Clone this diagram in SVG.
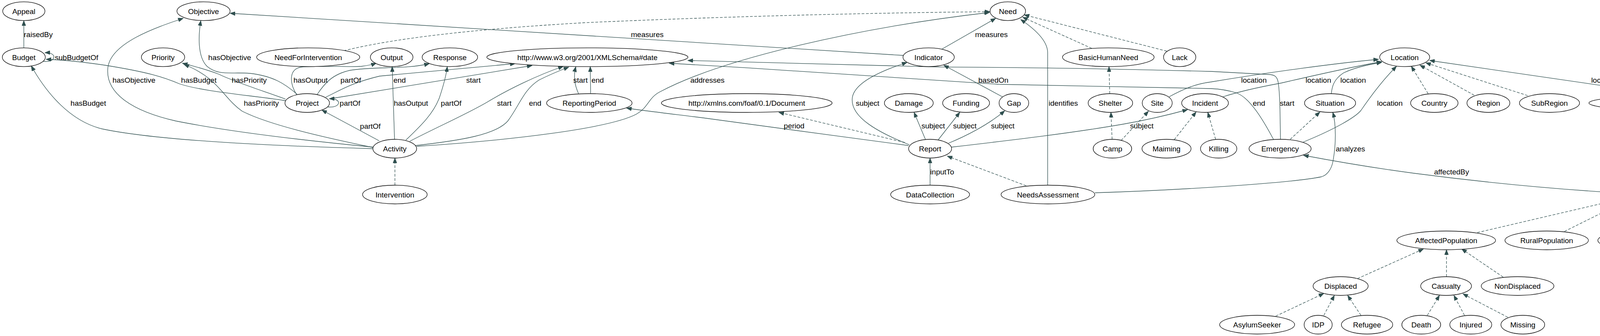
<svg xmlns="http://www.w3.org/2000/svg" width="5445" height="861" viewBox="0 0 5445 861">
<style>
.n ellipse{fill:#fff;stroke:#000;stroke-width:1.3}
text{font-family:"Liberation Sans",Arial,Helvetica,sans-serif;font-size:19px;fill:#000;text-anchor:middle}
#connectors path{fill:none;stroke:#2f4f4f;stroke-width:1.3;marker-end:url(#ah)}
#connectors path.d{stroke-dasharray:7,4}
</style>
<defs>
<marker id="ah" markerWidth="14" markerHeight="10" refX="13" refY="5" orient="auto" markerUnits="userSpaceOnUse"><path d="M0,0 L13,5 L0,10 z" fill="#2f4f4f" stroke="#2f4f4f" stroke-width="1"/></marker>
</defs>
<rect width="5445" height="861" fill="#fff"/>
<g id="connectors">
<g><path d="M61,122.6 L61,53"/><text x="98" y="95">raisedBy</text></g>
<g><path d="M111,157 C142,162 150,134 115,135"/><text x="196" y="154">subBudgetOf</text></g>
<g><path d="M761,242 C730,215 700,195 640,188 C590,184 560,195 530,170 C505,145 508,90 514,53"/><text x="588" y="154">hasObjective</text></g>
<g><path d="M955,377 C800,362 600,340 450,310 C340,285 270,240 276,175 C282,110 400,70 469,47"/><text x="343" y="212">hasObjective</text></g>
<g><path d="M731,258 C650,245 520,235 460,215 C420,198 380,185 268,167 C200,157 150,153 118,152"/><text x="509" y="212">hasBudget</text></g>
<g><path d="M955,381 C700,374 400,360 260,330 C180,310 120,240 80,169"/><text x="226" y="271">hasBudget</text></g>
<g><path d="M731,254 C680,235 600,210 560,190 C520,175 490,168 467,162"/><text x="638" y="212">hasPriority</text></g>
<g><path d="M955,378 C820,350 690,320 620,285 C570,250 560,200 471,165"/><text x="669" y="271">hasPriority</text></g>
<g><path d="M759,242 C742,215 738,178 770,172 C820,168 900,172 925,170 C940,168 952,166 963,162"/><text x="795" y="212">hasOutput</text></g>
<g><path d="M812,242 C830,215 850,190 897,180 C960,170 1040,178 1099,163"/><text x="898" y="212">partOf</text></g>
<g><path d="M834,249 C870,232 900,212 972,195 L1319,163"/><text x="1023" y="212">end</text></g>
<g><path d="M845,253 L1362,168"/><text x="1212" y="212">start</text></g>
<g><path d="M839,274 C872,278 878,252 843,253"/><text x="896" y="271">partOf</text></g>
<g><path d="M1010,357 L1004,171"/><text x="1052" y="271">hasOutput</text></g>
<g><path d="M1039,359 C1080,320 1110,290 1125,250 C1135,220 1142,195 1145,171"/><text x="1155" y="271">partOf</text></g>
<g><path d="M1049,362 C1120,325 1200,290 1250,260 C1300,230 1370,195 1442,170"/><text x="1291" y="271">start</text></g>
<g><path d="M1063,373 C1180,360 1270,345 1300,310 C1330,270 1340,230 1380,205 C1410,190 1440,178 1456,172"/><text x="1370" y="271">end</text></g>
<g><path d="M971,361 L824,282"/><text x="948" y="330">partOf</text></g>
<g><path d="M1067,375 C1300,360 1560,330 1630,292 C1660,275 1660,250 1690,235 C1850,150 2200,70 2533,32"/><text x="1811" y="212">addresses</text></g>
<g><path class="d" d="M1011,474.5 L1011,405"/></g>
<g><path d="M1481,240 C1470,215 1468,195 1474,171"/><text x="1486" y="212">start</text></g>
<g><path d="M1512,239 L1511,171"/><text x="1530" y="212">end</text></g>
<g><path d="M2312,142 L589,34"/><text x="1657" y="95">measures</text></g>
<g><path class="d" d="M880,130 C1000,100 1200,75 1500,58 C1900,40 2300,32 2534,30"/></g>
<g><path d="M2326,373 C2150,350 1900,315 1800,302 C1720,292 1650,284 1604,277"/><text x="2033" y="329">period</text></g>
<g><path class="d" d="M2316,365 L1994,288"/></g>
<g><path d="M2328,371 C2250,340 2175,300 2182,250 C2188,210 2260,180 2322,160"/><text x="2221" y="271">subject</text></g>
<g><path d="M2369,357 L2340,288"/><text x="2389" y="329">subject</text></g>
<g><path d="M2402,358 L2457,288"/><text x="2470" y="329">subject</text></g>
<g><path d="M2428,367 C2470,350 2530,320 2572,284"/><text x="2567" y="329">subject</text></g>
<g><path d="M2411,126 L2549,47"/><text x="2538" y="95">measures</text></g>
<g><path d="M2566,248 L2416,167"/><text x="2543" y="212">basedOn</text></g>
<g><path d="M2381,474.5 L2381,405"/><text x="2412" y="447">inputTo</text></g>
<g><path class="d" d="M2627,476 L2425,400"/></g>
<g><path d="M2682,474.5 L2682,135 C2682,105 2650,75 2613,50"/><text x="2722" y="271">identifies</text></g>
<g><path class="d" d="M2795,124 L2618,44"/></g>
<g><path class="d" d="M2987,131 L2622,38"/></g>
<g><path d="M2436,377 C2600,358 2750,340 2876,318 C2950,305 3000,292 3040,281"/><text x="2923" y="329">subject</text></g>
<g><path class="d" d="M2841,240 L2839,171"/></g>
<g><path class="d" d="M2847,357 L2844,288"/></g>
<g><path class="d" d="M2870,360 L2940,285"/></g>
<g><path class="d" d="M3006,358 L3062,287"/></g>
<g><path class="d" d="M3112,357 L3092,288"/></g>
<g><path class="d" d="M3303,357 L3379,287"/></g>
<g><path d="M2993,248 C3030,228 3060,215 3100,210 C3250,185 3420,162 3529,152"/><text x="3210" y="212">location</text></g>
<g><path d="M3131,248 C3180,232 3230,222 3279,213 C3400,185 3480,168 3537,158"/><text x="3375" y="212">location</text></g>
<g><path d="M3408,240 C3410,225 3412,205 3439,187 C3470,172 3505,165 3537,160"/><text x="3464" y="212">location</text></g>
<g><path d="M3334,365 C3420,330 3470,300 3484,283 C3510,245 3545,200 3575,170"/><text x="3558" y="271">location</text></g>
<g><path d="M3260,357 C3235,310 3200,250 3165,238 C3140,230 3120,228 3100,227 C2900,222 2700,218 2556,216 C2300,200 2000,178 1713,162"/><text x="3223" y="271">end</text></g>
<g><path d="M3278,357 C3277,300 3277,240 3272,210 C3269,195 3262,192 3250,191 L3100,183 C2900,178 2700,173 2400,171.7 C2100,165 1900,158 1761,155"/><text x="3295" y="271">start</text></g>
<g><path d="M2803,494 C3000,488 3300,470 3383,453 C3400,448 3410,430 3413,410 C3420,370 3421,320 3412,288"/><text x="3457" y="388">analyzes</text></g>
<g><path d="M4121,493 C3950,482 3780,465 3620,444 C3500,428 3400,410 3337,398"/><text x="3716" y="447">affectedBy</text></g>
<g><path class="d" d="M3656,240 L3613,170"/></g>
<g><path class="d" d="M3774,244 L3635,167"/></g>
<g><path class="d" d="M3911,245 L3650,161"/></g>
<g><path d="M4254,241.6 L3660,155"/><text x="4113" y="212">locatedAt</text></g>
<g><path class="d" d="M4415,361 C4550,338 4700,308 4848,283"/></g>
<g><path class="d" d="M4219,475 L4281,406"/></g>
<g><path class="d" d="M3782,596 L4137,513"/></g>
<g><path class="d" d="M4005,593 L4154,519"/></g>
<g><path class="d" d="M4197,592 L4197,522.5"/></g>
<g><path class="d" d="M4392,593 L4245,519"/></g>
<g><path class="d" d="M5159,597 C4950,565 4700,530 4520,516 C4400,507 4320,503 4274,501"/></g>
<g><path class="d" d="M3475,714 L3644,638"/></g>
<g><path class="d" d="M3703,709 L3703,640"/></g>
<g><path class="d" d="M3848,710 L3742,638"/></g>
<g><path class="d" d="M3266,810 L3389,752"/></g>
<g><path class="d" d="M3389,808 L3416,757"/></g>
<g><path class="d" d="M3484,808 L3450,757"/></g>
<g><path class="d" d="M3654,808 L3685,757"/></g>
<g><path class="d" d="M3749,808 L3722,757"/></g>
<g><path class="d" d="M3860,813 L3745,753"/></g>
<g><path class="d" d="M4842,357 L4924,288"/></g>
<g><path class="d" d="M5087,361 L4994,288"/></g>
<g><path class="d" d="M5194,363 L5021,288"/></g>
<g><path class="d" d="M5135,360 L5208,286"/></g>
<g><path class="d" d="M5234,357 L5234,288"/></g>
<g><path class="d" d="M4812,474.5 L4812,405"/></g>
<g><path class="d" d="M4663,594 L4774,522"/></g>
<g><path class="d" d="M4840,592 L4821,522.5"/></g>
<g><path d="M5170,596 C5145,580 5138,560 5140,550 C5143,538 5150,530 5158,522.5"/><text x="5179" y="564">fromAge</text></g>
<g><path d="M5219,592 C5221,575 5221,560 5220,550 C5218,540 5215,530 5213,522.5"/><text x="5245" y="564">toAge</text></g>
<g><path d="M4811,714 L4668,634"/><text x="4786" y="682">leadBy</text></g>
<g><path d="M4881,714 L5028,634"/><text x="5006" y="682">convers</text></g>
</g>
<g id="nodes">
<g id="Appeal" class="n"><ellipse cx="61" cy="28.6" rx="54" ry="24"/><text x="61" y="35.6">Appeal</text></g>
<g id="Objective" class="n"><ellipse cx="521" cy="28.6" rx="68" ry="24"/><text x="521" y="35.6">Objective</text></g>
<g id="Need" class="n"><ellipse cx="2580" cy="28.6" rx="45.5" ry="24"/><text x="2580" y="35.6">Need</text></g>
<g id="Budget" class="n"><ellipse cx="61" cy="146.6" rx="55" ry="24"/><text x="61" y="153.6">Budget</text></g>
<g id="Priority" class="n"><ellipse cx="417.4" cy="146.6" rx="55.4" ry="24"/><text x="417.4" y="153.6">Priority</text></g>
<g id="NeedForIntervention" class="n"><ellipse cx="789" cy="146.6" rx="132" ry="24"/><text x="789" y="153.6">NeedForIntervention</text></g>
<g id="Output" class="n"><ellipse cx="1002.7" cy="146.6" rx="54.5" ry="24"/><text x="1002.7" y="153.6">Output</text></g>
<g id="Response" class="n"><ellipse cx="1151.7" cy="146.6" rx="71" ry="24"/><text x="1151.7" y="153.6">Response</text></g>
<g id="XMLSchemaDate" class="n"><ellipse cx="1503.7" cy="146.6" rx="257.5" ry="24"/><text x="1503.7" y="153.6">http://www.w3.org/2001/XMLSchema#date</text></g>
<g id="Indicator" class="n"><ellipse cx="2377.3" cy="146.6" rx="65.7" ry="24"/><text x="2377.3" y="153.6">Indicator</text></g>
<g id="BasicHumanNeed" class="n"><ellipse cx="2837.3" cy="146.6" rx="117.3" ry="24"/><text x="2837.3" y="153.6">BasicHumanNeed</text></g>
<g id="Lack" class="n"><ellipse cx="3020" cy="146.6" rx="41.4" ry="24"/><text x="3020" y="153.6">Lack</text></g>
<g id="Location" class="n"><ellipse cx="3596" cy="146.6" rx="64" ry="24"/><text x="3596" y="153.6">Location</text></g>
<g id="Project" class="n"><ellipse cx="786.5" cy="264" rx="57" ry="24"/><text x="786.5" y="271">Project</text></g>
<g id="ReportingPeriod" class="n"><ellipse cx="1508.7" cy="264" rx="109.4" ry="24"/><text x="1508.7" y="271">ReportingPeriod</text></g>
<g id="FoafDocument" class="n"><ellipse cx="1911.7" cy="264" rx="218.5" ry="24"/><text x="1911.7" y="271">http://xmlns.com/foaf/0.1/Document</text></g>
<g id="Damage" class="n"><ellipse cx="2326.6" cy="264" rx="62.5" ry="24"/><text x="2326.6" y="271">Damage</text></g>
<g id="Funding" class="n"><ellipse cx="2473.2" cy="264" rx="60" ry="24"/><text x="2473.2" y="271">Funding</text></g>
<g id="Gap" class="n"><ellipse cx="2595.6" cy="264" rx="38" ry="24"/><text x="2595.6" y="271">Gap</text></g>
<g id="Shelter" class="n"><ellipse cx="2842.6" cy="264" rx="57" ry="24"/><text x="2842.6" y="271">Shelter</text></g>
<g id="Site" class="n"><ellipse cx="2962.5" cy="264" rx="38.4" ry="24"/><text x="2962.5" y="271">Site</text></g>
<g id="Incident" class="n"><ellipse cx="3084.9" cy="264" rx="59.8" ry="24"/><text x="3084.9" y="271">Incident</text></g>
<g id="Situation" class="n"><ellipse cx="3405" cy="264" rx="65.4" ry="24"/><text x="3405" y="271">Situation</text></g>
<g id="Country" class="n"><ellipse cx="3671.9" cy="264" rx="60.7" ry="24"/><text x="3671.9" y="271">Country</text></g>
<g id="Region" class="n"><ellipse cx="3810.3" cy="264" rx="54.9" ry="24"/><text x="3810.3" y="271">Region</text></g>
<g id="SubRegion" class="n"><ellipse cx="3966.7" cy="264" rx="76.9" ry="24"/><text x="3966.7" y="271">SubRegion</text></g>
<g id="SpatialThing" class="n"><ellipse cx="4404.8" cy="264" rx="337.2" ry="24"/><text x="4404.8" y="271">http://www.w3.org/2003/01/geo/wgs84_pos#SpatialThing</text></g>
<g id="FoafAgent" class="n"><ellipse cx="4959.7" cy="264" rx="193" ry="24"/><text x="4959.7" y="271">http://xmlns.com/foaf/0.1/Agent</text></g>
<g id="Gender" class="n"><ellipse cx="5234.3" cy="264" rx="57.5" ry="24"/><text x="5234.3" y="271">Gender</text></g>
<g id="Activity" class="n"><ellipse cx="1010.6" cy="381" rx="56" ry="24"/><text x="1010.6" y="388">Activity</text></g>
<g id="Report" class="n"><ellipse cx="2381.1" cy="381" rx="55" ry="24"/><text x="2381.1" y="388">Report</text></g>
<g id="Camp" class="n"><ellipse cx="2847.8" cy="381" rx="49.3" ry="24"/><text x="2847.8" y="388">Camp</text></g>
<g id="Maiming" class="n"><ellipse cx="2986.3" cy="381" rx="62.8" ry="24"/><text x="2986.3" y="388">Maiming</text></g>
<g id="Killing" class="n"><ellipse cx="3119.8" cy="381" rx="46.6" ry="24"/><text x="3119.8" y="388">Killing</text></g>
<g id="Emergency" class="n"><ellipse cx="3277" cy="381" rx="79.5" ry="24"/><text x="3277" y="388">Emergency</text></g>
<g id="FoafGroup" class="n"><ellipse cx="4302.6" cy="381" rx="195" ry="24"/><text x="4302.6" y="388">http://xmlns.com/foaf/0.1/Group</text></g>
<g id="FoafOrganization" class="n"><ellipse cx="4811.9" cy="381" rx="234" ry="24"/><text x="4811.9" y="388">http://xmlns.com/foaf/0.1/Organization</text></g>
<g id="Male" class="n"><ellipse cx="5111.7" cy="381" rx="41" ry="24"/><text x="5111.7" y="388">Male</text></g>
<g id="Female" class="n"><ellipse cx="5234.3" cy="381" rx="57.5" ry="24"/><text x="5234.3" y="388">Female</text></g>
<g id="Intervention" class="n"><ellipse cx="1010.9" cy="498.5" rx="82.7" ry="24"/><text x="1010.9" y="505.5">Intervention</text></g>
<g id="DataCollection" class="n"><ellipse cx="2381.1" cy="498.5" rx="101" ry="24"/><text x="2381.1" y="505.5">DataCollection</text></g>
<g id="NeedsAssessment" class="n"><ellipse cx="2682.7" cy="498.5" rx="120" ry="24"/><text x="2682.7" y="505.5">NeedsAssessment</text></g>
<g id="Population" class="n"><ellipse cx="4197" cy="498.5" rx="76" ry="24"/><text x="4197" y="505.5">Population</text></g>
<g id="Organization" class="n"><ellipse cx="4811.6" cy="498.5" rx="89.5" ry="24"/><text x="4811.6" y="505.5">Organization</text></g>
<g id="XMLSchemaInt" class="n"><ellipse cx="5194.1" cy="498.5" rx="245" ry="24"/><text x="5194.1" y="505.5">http://www.w3.org/2001/XMLSchema#int</text></g>
<g id="AffectedPopulation" class="n"><ellipse cx="3702.3" cy="616" rx="126.3" ry="24"/><text x="3702.3" y="623">AffectedPopulation</text></g>
<g id="RuralPopulation" class="n"><ellipse cx="3959.5" cy="616" rx="106.8" ry="24"/><text x="3959.5" y="623">RuralPopulation</text></g>
<g id="TotalPopulation" class="n"><ellipse cx="4197" cy="616" rx="106.5" ry="24"/><text x="4197" y="623">TotalPopulation</text></g>
<g id="UrbanPopulation" class="n"><ellipse cx="4438.5" cy="616" rx="111" ry="24"/><text x="4438.5" y="623">UrbanPopulation</text></g>
<g id="Agency" class="n"><ellipse cx="4630.6" cy="616" rx="57.5" ry="24"/><text x="4630.6" y="623">Agency</text></g>
<g id="ImplementingPartner" class="n"><ellipse cx="4847.7" cy="616" rx="136" ry="24"/><text x="4847.7" y="623">ImplementingPartner</text></g>
<g id="Sector" class="n"><ellipse cx="5062.1" cy="616" rx="54.3" ry="24"/><text x="5062.1" y="623">Sector</text></g>
<g id="AgeGroup" class="n"><ellipse cx="5213.2" cy="616" rx="71.6" ry="24"/><text x="5213.2" y="623">AgeGroup</text></g>
<g id="Displaced" class="n"><ellipse cx="3432" cy="733" rx="70.5" ry="24"/><text x="3432" y="740">Displaced</text></g>
<g id="Casualty" class="n"><ellipse cx="3702" cy="733" rx="65" ry="24"/><text x="3702" y="740">Casualty</text></g>
<g id="NonDisplaced" class="n"><ellipse cx="3885" cy="733" rx="93" ry="24"/><text x="3885" y="740">NonDisplaced</text></g>
<g id="Cluster" class="n"><ellipse cx="4846.2" cy="733" rx="55.4" ry="24"/><text x="4846.2" y="740">Cluster</text></g>
<g id="AsylumSeeker" class="n"><ellipse cx="3218.3" cy="832" rx="96" ry="24"/><text x="3218.3" y="839">AsylumSeeker</text></g>
<g id="IDP" class="n"><ellipse cx="3374.5" cy="832" rx="36" ry="24"/><text x="3374.5" y="839">IDP</text></g>
<g id="Refugee" class="n"><ellipse cx="3499.7" cy="832" rx="65.7" ry="24"/><text x="3499.7" y="839">Refugee</text></g>
<g id="Death" class="n"><ellipse cx="3638.4" cy="832" rx="49.7" ry="24"/><text x="3638.4" y="839">Death</text></g>
<g id="Injured" class="n"><ellipse cx="3765.2" cy="832" rx="53.7" ry="24"/><text x="3765.2" y="839">Injured</text></g>
<g id="Missing" class="n"><ellipse cx="3898.4" cy="832" rx="56" ry="24"/><text x="3898.4" y="839">Missing</text></g>
</g>
</svg>
